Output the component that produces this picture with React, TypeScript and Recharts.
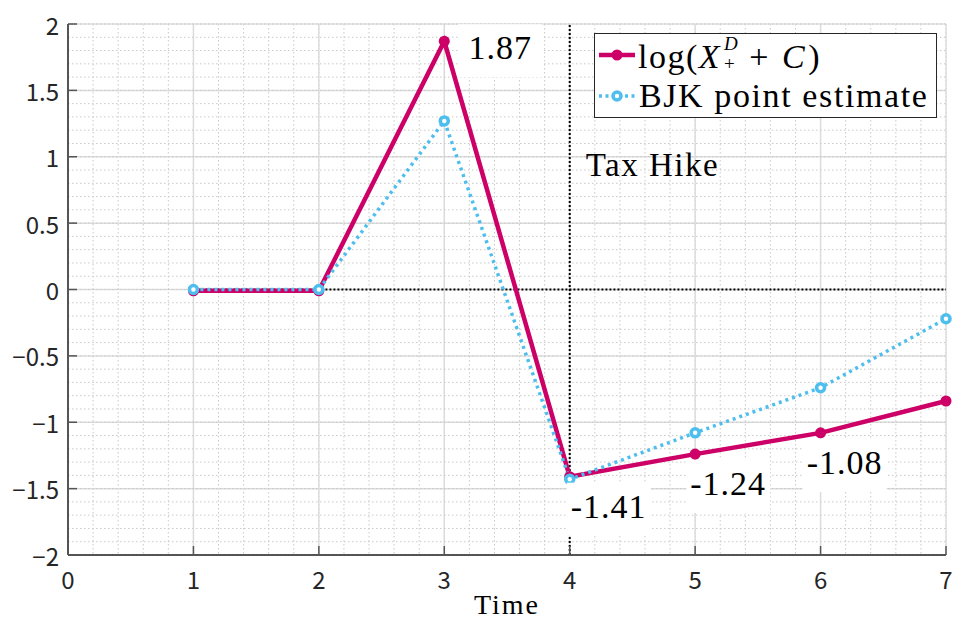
import React from "react";
import {
  LineChart,
  Line,
  XAxis,
  YAxis,
  CartesianGrid,
  ReferenceLine,
  LabelList,
  Legend,
} from "recharts";

const times = [1, 2, 3, 4, 5, 6, 7];
const logXD = [-0.01, -0.01, 1.87, -1.41, -1.24, -1.08, -0.84];
const bjk = [0, 0, 1.27, -1.43, -1.08, -0.74, -0.22];
const xTicks = [0, 1, 2, 3, 4, 5, 6, 7];
const yTicks = [-2, -1.5, -1, -0.5, 0, 0.5, 1, 1.5, 2];
const eventTime = 4;
const eventLabel = "Tax Hike";
const xLabel = "Time";

const data = times.map((t, i) => ({ t, a: logXD[i], b: bjk[i] }));

// minor grid positions
const xMinor = Array.from({ length: 36 }, (_, i) => +(i * 0.2).toFixed(1));
const yMinor = Array.from({ length: 41 }, (_, i) => +(-2 + i * 0.1).toFixed(1));

const MAG = "#CC0066";
const BLUE = "#4DBEEE";
const SERIF = "'Liberation Serif', 'DejaVu Serif', serif";
const SANS = "'Noto Sans CJK JP', 'Noto Sans', sans-serif";
const PLOT_LEFT = 68;
const PLOT_BOTTOM = 555;
const MINOR = "#c9c9c9";

// text offsets (dx, dy to baseline) for the labelled points
const labelOffsets: Record<number, [number, number]> = {
  2: [56, 18],
  3: [39, 41],
  4: [33, 41],
  5: [24, 41],
};

const fmtTick = (v: number) => (v < 0 ? "\u2212" + Math.abs(v) : String(v));

const YTick = (props: any) => {
  const { y, payload } = props;
  return (
    <g>
      <line x1={PLOT_LEFT} x2={PLOT_LEFT + 9} y1={y} y2={y} stroke="#555" strokeWidth={1.5} />
      <text x={PLOT_LEFT - 9} y={y} textAnchor="end" dominantBaseline="central"
        fontFamily={SANS} fontSize={24} fill="#262626">
        {fmtTick(payload.value)}
      </text>
    </g>
  );
};

const XTick = (props: any) => {
  const { x, payload } = props;
  return (
    <g>
      <line x1={x} x2={x} y1={PLOT_BOTTOM} y2={PLOT_BOTTOM - 9} stroke="#555" strokeWidth={1.5} />
      <text x={x} y={PLOT_BOTTOM + 23} textAnchor="middle" dominantBaseline="central"
        fontFamily={SANS} fontSize={24} fill="#262626">
        {fmtTick(payload.value)}
      </text>
    </g>
  );
};

const XTitle = (props: any) => {
  const { viewBox } = props;
  return (
    <text x={viewBox.x + viewBox.width / 2} y={614} textAnchor="middle"
      fontFamily={SERIF} fontSize={28} letterSpacing={2} fill="#000">
      {xLabel}
    </text>
  );
};

const ValueLabel = (props: any) => {
  const { x, y, value, index } = props;
  const off = labelOffsets[index];
  if (!off) return null;
  const cx = x + off[0];
  const by = y + off[1];
  return (
    <g>
      <rect x={cx - 42} y={by - 35} width={84} height={53} fill="#fff" />
      <text x={cx} y={by} textAnchor="middle" fontFamily={SERIF} fontSize={34}
        letterSpacing={1} fill="#000">
        {Number(value).toFixed(2)}
      </text>
    </g>
  );
};

const EventLabel = (props: any) => {
  const { viewBox } = props;
  return (
    <text x={viewBox.x + 16} y={176} fontFamily={SERIF} fontSize={33}
      letterSpacing={1.5} fill="#000">
      {eventLabel}
    </text>
  );
};

const LegendBox = () => (
  <div
    style={{
      border: "1px solid #262626",
      background: "#fff",
      width: 343,
      height: 85,
      boxSizing: "border-box",
      fontFamily: SERIF,
      fontSize: 34,
      color: "#000",
      paddingLeft: 2,
    }}
  >
    <div style={{ display: "flex", alignItems: "center", height: 42 }}>
      <svg width={40} height={20} style={{ marginRight: 1 }}>
        <line x1={2} x2={38} y1={10} y2={10} stroke={MAG} strokeWidth={4.5} />
        <circle cx={20} cy={10} r={5.5} fill={MAG} />
      </svg>
      <span style={{ whiteSpace: "nowrap", letterSpacing: 1.5, display: "flex", alignItems: "center", marginTop: 4 }}>
        <span>log(</span>
        <i>X</i>
        <span
          style={{
            display: "inline-flex",
            flexDirection: "column",
            fontSize: 19,
            lineHeight: "20px",
            marginLeft: 3,
            marginTop: -6,
          }}
        >
          <i>D</i>
          <span>+</span>
        </span>
        <span style={{ margin: "0 12px 0 10px" }}>+</span>
        <i>C</i>
        <span style={{ marginLeft: 2 }}>)</span>
      </span>
    </div>
    <div style={{ display: "flex", alignItems: "center", height: 40 }}>
      <svg width={40} height={20} style={{ marginRight: 2 }}>
        <line x1={2} x2={38} y1={10} y2={10} stroke={BLUE} strokeWidth={3.5} strokeDasharray="3 3.5" />
        <circle cx={20} cy={10} r={4} fill="#fff" stroke={BLUE} strokeWidth={3.5} />
      </svg>
      <span style={{ whiteSpace: "nowrap", letterSpacing: 1.6 }}>BJK point estimate</span>
    </div>
  </div>
);

export default function App() {
  return (
    <div style={{ position: "absolute", left: 0, top: 0, background: "#fff" }}>
      <LineChart width={954} height={621} data={data}
        margin={{ top: 24, right: 8, left: 8, bottom: 0 }}>
        <XAxis xAxisId="minor" dataKey="t" type="number" domain={[0, 7]} ticks={xMinor}
          interval={0} hide />
        <CartesianGrid xAxisId="minor" horizontal={false} stroke={MINOR} strokeWidth={1}
          strokeDasharray="1.5 2.5" />
        {yMinor.map((v) => (
          <ReferenceLine key={"m" + v} y={v} stroke={MINOR} strokeWidth={1}
            strokeDasharray="1.5 2.5" />
        ))}
        <CartesianGrid stroke="#dcdcdc" strokeWidth={1.5} />
        <XAxis dataKey="t" type="number" domain={[0, 7]} ticks={xTicks} height={66}
          interval={0} tick={<XTick />} tickLine={false} stroke="#262626" strokeWidth={1.5}
          label={<XTitle />} />
        <YAxis type="number" domain={[-2, 2]} ticks={yTicks} width={60} interval={0}
          tick={<YTick />} tickLine={false} stroke="#262626" strokeWidth={1.5} />
        <ReferenceLine segment={[{ x: 1, y: 0 }, { x: 7, y: 0 }]} stroke="#000"
          strokeWidth={2} strokeDasharray="2 2" />
        <ReferenceLine x={eventTime} stroke="#000" strokeWidth={2} strokeDasharray="2 2"
          label={<EventLabel />} />
        <Line dataKey="a" stroke={MAG} strokeWidth={4.5} isAnimationActive={false}
          dot={{ r: 5.5, fill: MAG, stroke: MAG, strokeWidth: 0 }} activeDot={false}>
          <LabelList dataKey="a" content={<ValueLabel />} />
        </Line>
        <Line dataKey="b" stroke={BLUE} strokeWidth={3.5} strokeDasharray="3 4"
          isAnimationActive={false} activeDot={false}
          dot={{ r: 4, fill: "#fff", stroke: BLUE, strokeWidth: 3.5, strokeDasharray: "" }} />
        <Legend layout="vertical" align="center" verticalAlign="middle"
          wrapperStyle={{ left: 594, top: 33, width: 343, height: 85 }}
          content={<LegendBox />} />
      </LineChart>
    </div>
  );
}
